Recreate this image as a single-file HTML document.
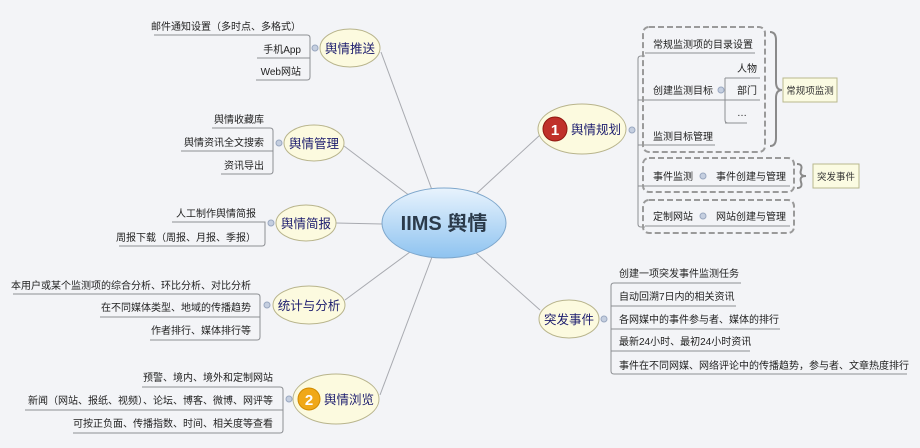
<!DOCTYPE html>
<html><head><meta charset="utf-8"><style>
html,body{margin:0;padding:0;background:#f3f4f7;}
svg{display:block;font-family:"Liberation Sans","Noto Sans CJK SC",sans-serif;}
.l{font-size:10px;fill:#222;}
.b{font-size:12.5px;fill:#1c1c6e;}
.ln{stroke:#8d8f93;stroke-width:1;fill:none;}
.c{stroke:#a8aab0;stroke-width:1;fill:none;}
.e{fill:#fcfadf;stroke:#b8b48c;stroke-width:1;}
.d{fill:none;stroke:#9a9a9a;stroke-width:2;stroke-dasharray:6,3;}
.k{fill:#c5cfe0;stroke:#9aa8c0;}
</style></head><body>
<svg width="920" height="448" viewBox="0 0 920 448">
<defs>
<linearGradient id="g" x1="0" y1="0" x2="0" y2="1"><stop offset="0" stop-color="#e8f3fd"/><stop offset="1" stop-color="#8ec3f0"/></linearGradient>
</defs>
<rect x="0" y="0" width="920" height="448" fill="#f3f4f7"/>
<path class="c" d="M432 190 L381 52"/>
<path class="c" d="M410 196 L344 146"/>
<path class="c" d="M382 224 L336 223"/>
<path class="c" d="M410 252 L345 300"/>
<path class="c" d="M432 257 L380 395"/>
<path class="c" d="M476 194 L540 135"/>
<path class="c" d="M476 253 L540 310"/>
<ellipse cx="444" cy="223" rx="62" ry="35" fill="url(#g)" stroke="#7ea7cc"/>
<text x="444" y="230" text-anchor="middle" style="font-size:20px;font-weight:bold;fill:#2b3a4a">IIMS 舆情</text>

<ellipse class="e" cx="350" cy="48" rx="30" ry="19"/>
<text class="b" x="350" y="53" text-anchor="middle">舆情推送</text>
<circle class="k" cx="315" cy="48" r="3"/>
<path class="ln" d="M154 35 H307 Q310 35 310 38 V77 Q310 80 307 80 H256 M257 58 H310"/>
<text class="l" x="301" y="30" text-anchor="end">邮件通知设置（多时点、多格式）</text>
<text class="l" x="301" y="53" text-anchor="end">手机App</text>
<text class="l" x="301" y="75" text-anchor="end">Web网站</text>

<ellipse class="e" cx="314" cy="143" rx="30" ry="18"/>
<text class="b" x="314" y="148" text-anchor="middle">舆情管理</text>
<circle class="k" cx="279" cy="143" r="3"/>
<path class="ln" d="M212 128 H270 Q273 128 273 131 V171 Q273 174 270 174 H221 M181 151 H273"/>
<text class="l" x="264" y="123" text-anchor="end">舆情收藏库</text>
<text class="l" x="264" y="146" text-anchor="end">舆情资讯全文搜索</text>
<text class="l" x="264" y="169" text-anchor="end">资讯导出</text>

<ellipse class="e" cx="306" cy="223" rx="30" ry="18"/>
<text class="b" x="306" y="228" text-anchor="middle">舆情简报</text>
<circle class="k" cx="271" cy="223" r="3"/>
<path class="ln" d="M172 222 H265 V243 Q265 246 262 246 H119"/>
<text class="l" x="256" y="217" text-anchor="end">人工制作舆情简报</text>
<text class="l" x="256" y="241" text-anchor="end">周报下载（周报、月报、季报）</text>

<ellipse class="e" cx="309" cy="305" rx="36" ry="19"/>
<text class="b" x="309" y="310" text-anchor="middle">统计与分析</text>
<circle class="k" cx="267" cy="305" r="3"/>
<path class="ln" d="M13 294 H257 Q260 294 260 297 V337 Q260 340 257 340 H150 M100 317 H260"/>
<text class="l" x="251" y="289" text-anchor="end">本用户或某个监测项的综合分析、环比分析、对比分析</text>
<text class="l" x="251" y="311" text-anchor="end">在不同媒体类型、地域的传播趋势</text>
<text class="l" x="251" y="334" text-anchor="end">作者排行、媒体排行等</text>

<ellipse class="e" cx="336" cy="399" rx="43" ry="25"/>
<circle cx="309" cy="399" r="11" fill="#f0a818" stroke="#d08a00"/>
<text x="309" y="405" text-anchor="middle" style="font-size:15px;font-weight:bold;fill:#fff">2</text>
<text class="b" x="349" y="404" text-anchor="middle">舆情浏览</text>
<circle class="k" cx="289" cy="399" r="3"/>
<path class="ln" d="M142 387 H280 Q283 387 283 390 V430 Q283 433 280 433 H73 M25 410 H283"/>
<text class="l" x="273" y="381" text-anchor="end">预警、境内、境外和定制网站</text>
<text class="l" x="273" y="404" text-anchor="end">新闻（网站、报纸、视频）、论坛、博客、微博、网评等</text>
<text class="l" x="273" y="427" text-anchor="end">可按正负面、传播指数、时间、相关度等查看</text>

<ellipse class="e" cx="582" cy="129" rx="44" ry="25"/>
<circle cx="555" cy="129" r="12" fill="#c0302a" stroke="#901810"/>
<text x="555" y="135" text-anchor="middle" style="font-size:15px;font-weight:bold;fill:#fff">1</text>
<text class="b" x="596" y="134" text-anchor="middle">舆情规划</text>
<circle class="k" cx="632" cy="130" r="3"/>
<path class="ln" d="M645 56 H641 Q638 56 638 59 V224 Q638 227 641 227 H645 M638 100 H645 M638 145 H645 M638 186 H645"/>
<rect class="d" x="643" y="27" width="122" height="125" rx="6"/>
<path class="ln" d="M645 53 H755 M645 100 H760 M645 145 H715 M725 78 H760 M725 123 H747 M725 78 V120 Q725 123 728 123"/>
<circle class="k" cx="721" cy="90" r="3"/>
<text class="l" x="653" y="48">常规监测项的目录设置</text>
<text class="l" x="653" y="94">创建监测目标</text>
<text class="l" x="737" y="72">人物</text>
<text class="l" x="737" y="94">部门</text>
<text class="l" x="737" y="116">…</text>
<text class="l" x="653" y="140">监测目标管理</text>
<path d="M770 32 Q776 32 776 40 V82 Q776 90 782 90 Q776 90 776 98 V138 Q776 146 770 146" fill="none" stroke="#8a8a8a" stroke-width="2"/>
<rect x="783" y="78" width="54" height="24" fill="#fbfbe2" stroke="#b8b88e"/>
<text x="810" y="94" text-anchor="middle" style="font-size:9.5px;fill:#333">常规项监测</text>

<rect class="d" x="643" y="158" width="151" height="34" rx="6"/>
<path class="ln" d="M645 186 H790"/>
<circle class="k" cx="703" cy="176" r="3"/>
<text class="l" x="653" y="180">事件监测</text>
<text class="l" x="716" y="180">事件创建与管理</text>
<path d="M797 164 Q803 164 801 170 Q799 176 806 176 Q799 176 801 182 Q803 188 797 188" fill="none" stroke="#8a8a8a" stroke-width="2"/>
<rect x="813" y="164" width="46" height="24" fill="#fbfbe2" stroke="#b8b88e"/>
<text x="836" y="180" text-anchor="middle" style="font-size:9.5px;fill:#333">突发事件</text>

<rect class="d" x="643" y="200" width="151" height="33" rx="6"/>
<path class="ln" d="M645 226 H790"/>
<circle class="k" cx="703" cy="216" r="3"/>
<text class="l" x="653" y="220">定制网站</text>
<text class="l" x="716" y="220">网站创建与管理</text>

<ellipse class="e" cx="569" cy="319" rx="30" ry="19"/>
<text class="b" x="569" y="324" text-anchor="middle">突发事件</text>
<circle class="k" cx="604" cy="319" r="3"/>
<path class="ln" d="M741 283 H614 Q611 283 611 286 V371 Q611 374 614 374 H907 M611 306 H736 M611 329 H780 M611 351 H750"/>
<text class="l" x="619" y="277">创建一项突发事件监测任务</text>
<text class="l" x="619" y="300">自动回溯7日内的相关资讯</text>
<text class="l" x="619" y="323">各网媒中的事件参与者、媒体的排行</text>
<text class="l" x="619" y="345">最新24小时、最初24小时资讯</text>
<text class="l" x="619" y="369">事件在不同网媒、网络评论中的传播趋势，参与者、文章热度排行</text>
</svg>
</body></html>
